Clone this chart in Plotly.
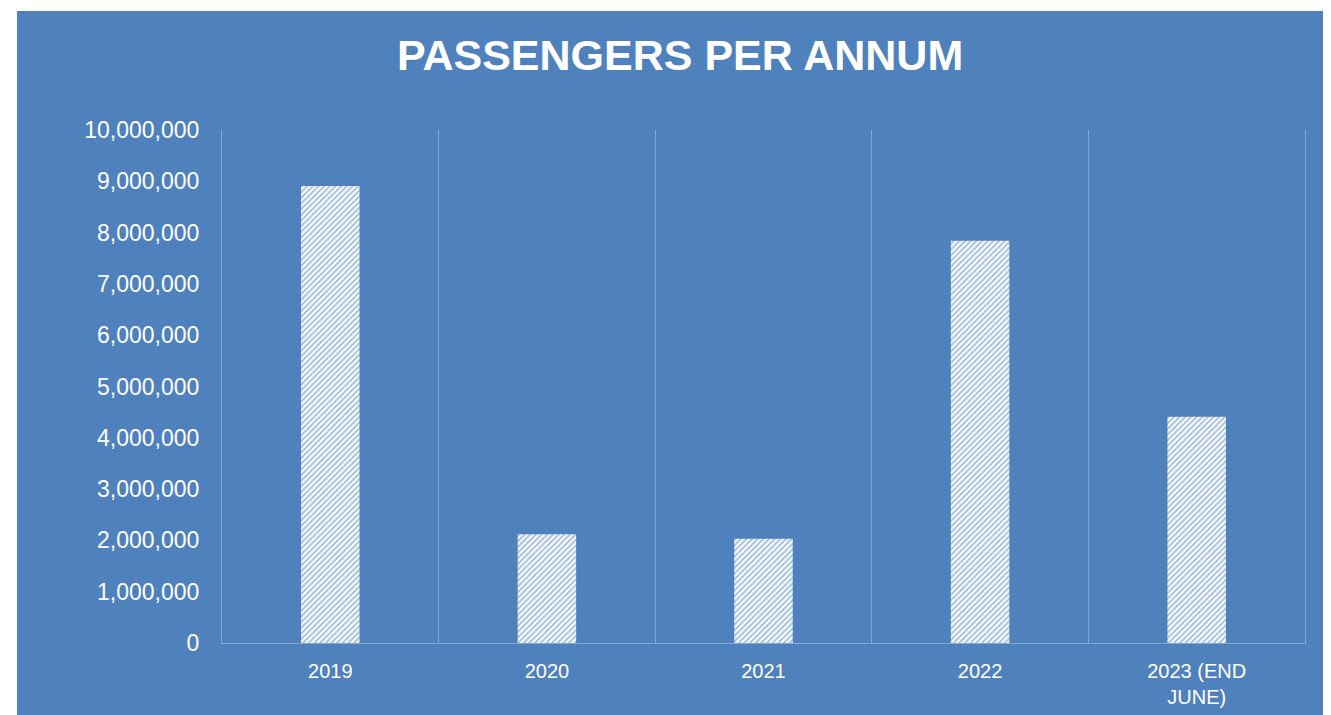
import plotly.graph_objects as go

categories = ["2019", "2020", "2021", "2022", "2023 (END<br>JUNE)"]
passengers = [8910000, 2120000, 2030000, 7840000, 4410000]
y_ticks = list(range(0, 10000001, 1000000))

BLUE = "#4F81BD"
GRID = "rgba(255,255,255,0.3)"

fig = go.Figure(
    go.Bar(
        x=categories,
        y=passengers,
        width=0.27,
        marker=dict(
            color="white",
            line=dict(width=0),
            pattern=dict(shape="/", bgcolor="white", fgcolor=BLUE, size=4, solidity=0.5, fillmode="overlay"),
        ),
        hoverinfo="x+y",
    )
)

fig.add_shape(
    type="rect", xref="paper", yref="paper",
    x0=-0.1893, x1=1.1, y0=-0.2, y1=1.232,
    fillcolor=BLUE, line=dict(width=0), layer="below",
)

fig.update_layout(
    width=1323, height=707,
    paper_bgcolor="white", plot_bgcolor="rgba(0,0,0,0)",
    margin=dict(l=214, r=26, t=122, b=72, autoexpand=False),
    font=dict(family="Liberation Sans, Arial, sans-serif", color="white"),
    title=dict(
        text="<b>PASSENGERS PER ANNUM</b>",
        font=dict(size=43, color="white", family="Liberation Sans, Arial, sans-serif"),
        xref="paper", x=0.423, xanchor="center",
        yref="container", y=1 - 47 / 707, yanchor="middle",
    ),
    showlegend=False,
)

fig.update_xaxes(
    type="category",
    range=[-0.5, 4.5],
    tickson="boundaries",
    showgrid=True, gridcolor=GRID, gridwidth=1,
    showline=True, linecolor=GRID, linewidth=1,
    ticks="", ticklabelstandoff=10, automargin=False,
    tickfont=dict(size=20, color="white"),
)

fig.update_yaxes(
    range=[0, 10000000],
    tickvals=y_ticks,
    tickformat=",",
    showgrid=False, zeroline=False,
    showline=True, linecolor=GRID, linewidth=1, mirror=True,
    automargin=False,
    ticks="", ticklabelstandoff=17,
    tickfont=dict(size=23, color="white"),
)

fig.write_html("out.html")
